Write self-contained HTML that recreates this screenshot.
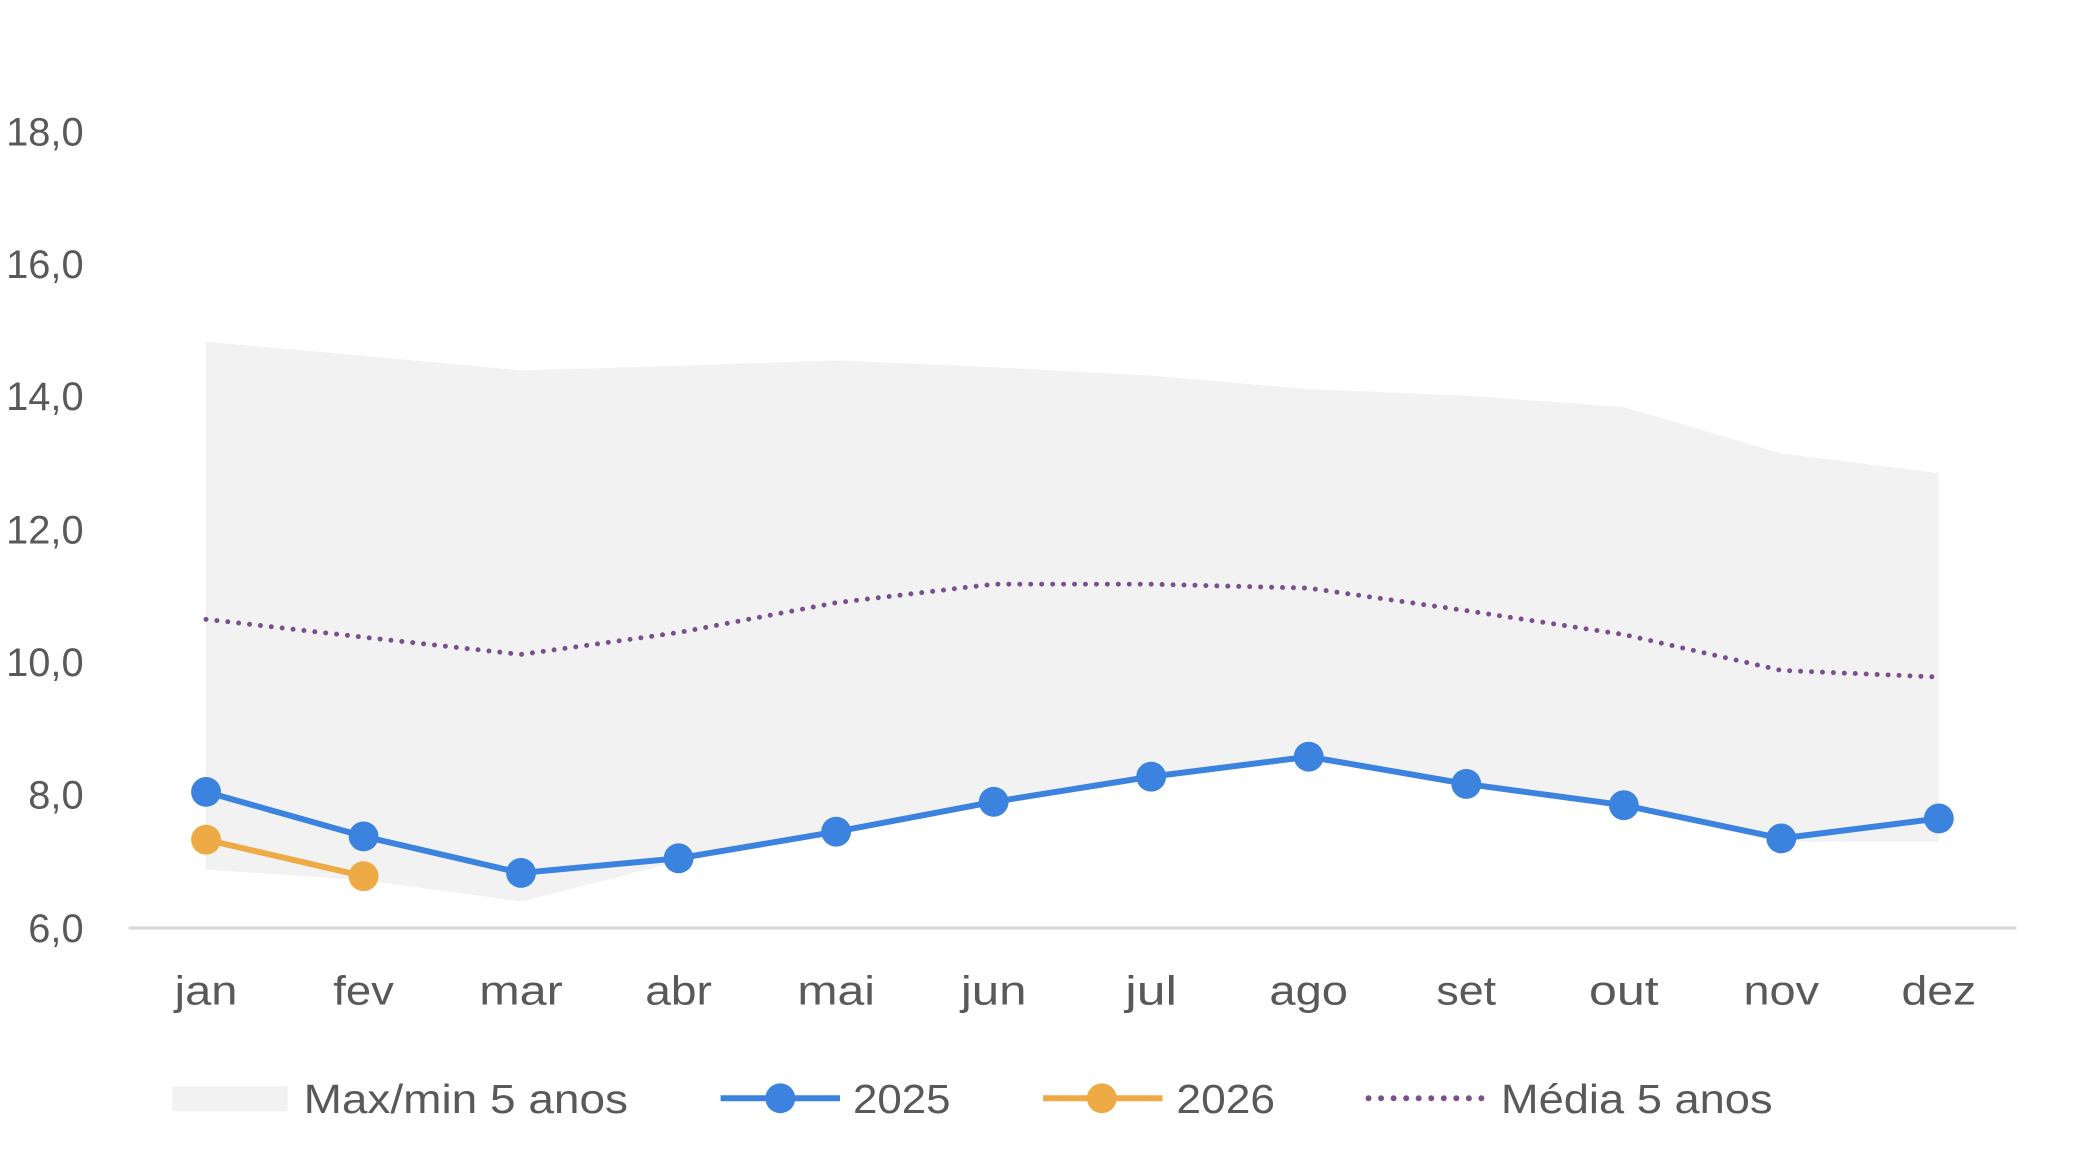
<!DOCTYPE html>
<html><head><meta charset="utf-8"><style>
html,body{margin:0;padding:0;background:#fff}
svg{display:block}
text{font-family:"Liberation Sans",sans-serif;fill:#595959}
</style></head><body>
<svg width="2080" height="1169" viewBox="0 0 2080 1169" xmlns="http://www.w3.org/2000/svg">
<rect width="2080" height="1169" fill="#fff"/>
<g transform="scale(0.9953,0.9957)">
<polygon fill="#f2f2f2" points="207,343.3 365.3,357.3 523.5,372 681.8,367.3 840.1,362 998.4,368.7 1156.6,377.3 1314.9,390.7 1473.2,397.3 1631.5,408.7 1789.7,455.3 1948,475.3 1948,845.3 1789.7,845.3 1631.5,811 1473.2,790 1314.9,763 1156.6,783 998.4,808 840.1,838 681.8,865.3 523.5,905.3 365.3,884 207,873.3"/>
<line x1="129" y1="932" x2="2026" y2="932" stroke="#d9d9d9" stroke-width="3"/>
<g font-size="40" text-anchor="end">
<text x="84" y="146">18,0</text>
<text x="84" y="279">16,0</text>
<text x="84" y="412">14,0</text>
<text x="84" y="546">12,0</text>
<text x="84" y="679">10,0</text>
<text x="84" y="812">8,0</text>
<text x="84" y="946">6,0</text>
</g>
<g font-size="41" text-anchor="middle">
<text x="207" y="1009" textLength="63" lengthAdjust="spacingAndGlyphs">jan</text>
<text x="365.3" y="1009" textLength="61" lengthAdjust="spacingAndGlyphs">fev</text>
<text x="523.5" y="1009" textLength="84" lengthAdjust="spacingAndGlyphs">mar</text>
<text x="681.8" y="1009" textLength="67" lengthAdjust="spacingAndGlyphs">abr</text>
<text x="840.1" y="1009" textLength="78" lengthAdjust="spacingAndGlyphs">mai</text>
<text x="998.4" y="1009" textLength="66" lengthAdjust="spacingAndGlyphs">jun</text>
<text x="1156.6" y="1009" textLength="52" lengthAdjust="spacingAndGlyphs">jul</text>
<text x="1314.9" y="1009" textLength="79" lengthAdjust="spacingAndGlyphs">ago</text>
<text x="1473.2" y="1009" textLength="60" lengthAdjust="spacingAndGlyphs">set</text>
<text x="1631.5" y="1009" textLength="70" lengthAdjust="spacingAndGlyphs">out</text>
<text x="1789.7" y="1009" textLength="76" lengthAdjust="spacingAndGlyphs">nov</text>
<text x="1948" y="1009" textLength="75" lengthAdjust="spacingAndGlyphs">dez</text>
</g>
<polyline fill="none" stroke="#7b4f8e" stroke-width="5" stroke-linecap="round" stroke-dasharray="0 11" points="207,622 365.3,640 523.5,657.3 681.8,635.3 840.1,605.3 998.4,586.7 1156.6,586.7 1314.9,590.7 1473.2,613.3 1631.5,637.3 1789.7,673.3 1948,680"/>
<polyline fill="none" stroke="#3b83de" stroke-width="6" stroke-linejoin="round" points="207,795.3 365.3,840 523.5,876.7 681.8,862 840.1,835.3 998.4,805.3 1156.6,780 1314.9,760 1473.2,787.3 1631.5,808.7 1789.7,842 1948,822"/>
<g fill="#3b83de">
<circle cx="207" cy="795.3" r="15"/><circle cx="365.3" cy="840" r="15"/><circle cx="523.5" cy="876.7" r="15"/><circle cx="681.8" cy="862" r="15"/><circle cx="840.1" cy="835.3" r="15"/><circle cx="998.4" cy="805.3" r="15"/><circle cx="1156.6" cy="780" r="15"/><circle cx="1314.9" cy="760" r="15"/><circle cx="1473.2" cy="787.3" r="15"/><circle cx="1631.5" cy="808.7" r="15"/><circle cx="1789.7" cy="842" r="15"/><circle cx="1948" cy="822" r="15"/>
</g>
<polyline fill="none" stroke="#eeaa45" stroke-width="6" points="207,843.3 365.3,880"/>
<g fill="#eeaa45"><circle cx="207" cy="843.3" r="15"/><circle cx="365.3" cy="880" r="15"/></g>
<rect x="173" y="1091" width="116" height="25" fill="#f2f2f2"/>
<line x1="724" y1="1103" x2="844" y2="1103" stroke="#3b83de" stroke-width="6"/>
<circle cx="784" cy="1103" r="15" fill="#3b83de"/>
<line x1="1048" y1="1103" x2="1168" y2="1103" stroke="#eeaa45" stroke-width="6"/>
<circle cx="1107" cy="1103" r="15" fill="#eeaa45"/>
<line x1="1375" y1="1103" x2="1489" y2="1103" stroke="#7b4f8e" stroke-width="6" stroke-linecap="round" stroke-dasharray="0 12.6"/>
<g font-size="41">
<text x="305" y="1118" textLength="326" lengthAdjust="spacingAndGlyphs">Max/min 5 anos</text>
<text x="857" y="1118" textLength="98" lengthAdjust="spacingAndGlyphs">2025</text>
<text x="1182" y="1118" textLength="99" lengthAdjust="spacingAndGlyphs">2026</text>
<text x="1508" y="1118" textLength="273" lengthAdjust="spacingAndGlyphs">Média 5 anos</text>
</g>
</g>
</svg>
</body></html>
